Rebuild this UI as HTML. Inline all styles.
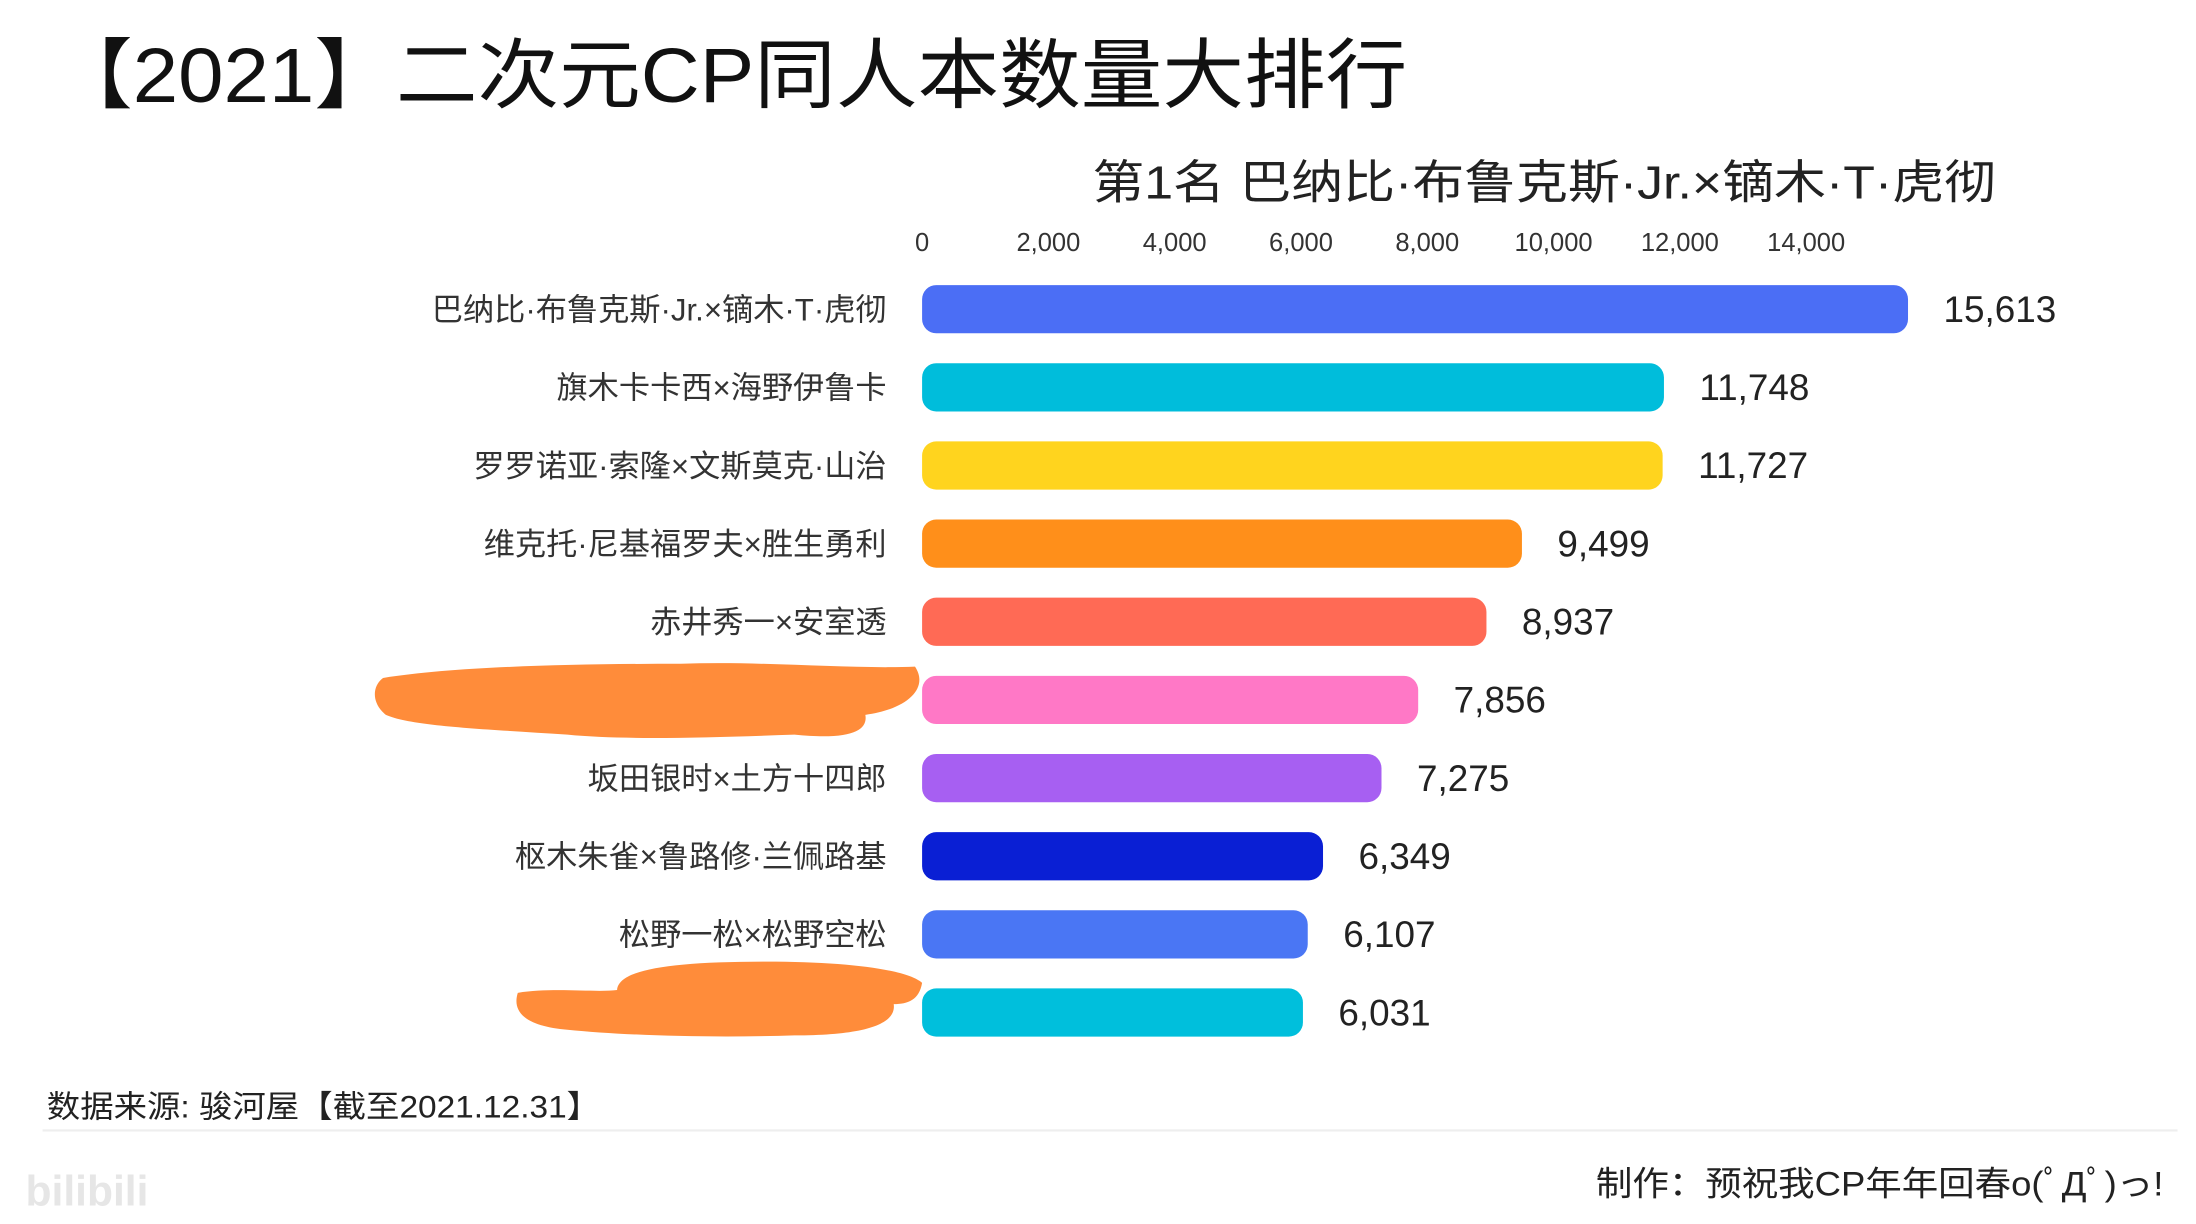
<!DOCTYPE html>
<html><head><meta charset="utf-8"><style>
html,body{margin:0;padding:0;background:#fff;}
svg{display:block;}
text{font-family:"Liberation Sans","Noto Sans CJK SC",sans-serif;}
</style></head><body>
<svg id="chart" width="2196" height="1224" viewBox="0 0 1548 863" preserveAspectRatio="none" xmlns="http://www.w3.org/2000/svg">
<rect width="1548" height="863" fill="#fff"/>
<text x="36" y="72" font-size="54" fill="#111" textLength="956" lengthAdjust="spacingAndGlyphs">【2021】二次元CP同人本数量大排行</text>
<text x="770" y="140" font-size="33" fill="#222" textLength="637" lengthAdjust="spacingAndGlyphs">第1名 巴纳比·布鲁克斯·Jr.×镝木·T·虎彻</text>
<g id="ticks"></g>
<g id="bars"></g>
<path d="M270,478 C320,470 400,468 480,468 C540,466 600,472 645,470 C655,485 640,500 610,504 C612,515 600,522 560,518 C500,520 440,522 400,518 C340,514 290,512 272,504 C262,496 262,484 270,478 Z" fill="#ff8c3a"/>
<path d="M365,700 C390,696 420,700 435,698 C436,684 470,678 540,678 C600,678 640,684 650,693 C648,705 640,708 630,708 C632,722 610,730 560,730 C500,732 440,730 400,726 C375,724 360,716 365,700 Z" fill="#ff8c3a"/>
<text x="33" y="788" font-size="22" fill="#222" textLength="390" lengthAdjust="spacingAndGlyphs">数据来源: 骏河屋【截至2021.12.31】</text>
<line x1="30" y1="797" x2="1535" y2="797" stroke="#eee" stroke-width="1.5"/>
<text x="1525" y="843" font-size="24" fill="#222" text-anchor="end" textLength="400" lengthAdjust="spacingAndGlyphs">制作：预祝我CP年年回春o(ﾟДﾟ)っ!</text>
<text x="18" y="850" font-size="30" fill="#e6e6e6" font-weight="bold">bilibili</text>
</svg>
<script>
const categories=["巴纳比·布鲁克斯·Jr.×镝木·T·虎彻","旗木卡卡西×海野伊鲁卡","罗罗诺亚·索隆×文斯莫克·山治","维克托·尼基福罗夫×胜生勇利","赤井秀一×安室透","","坂田银时×土方十四郎","枢木朱雀×鲁路修·兰佩路基","松野一松×松野空松",""];
const values=[15613,11748,11727,9499,8937,7856,7275,6349,6107,6031];
const colors=["#4b6ef5","#00bddb","#ffd41e","#ff8f1a","#ff6a55","#ff78c6","#a75ff2","#0a1fd4","#4a76f4","#00bfdc"];
const tickValues=[0,2000,4000,6000,8000,10000,12000,14000];
const tickLabels=["0","2,000","4,000","6,000","8,000","10,000","12,000","14,000"];
const NS="http://www.w3.org/2000/svg";
const x0=650, pxPerUnit=695/15613;
function xScale(v){return x0+v*pxPerUnit;}
function yScale(i){return 218+i*55.1;}
const tg=document.getElementById('ticks');
tickValues.forEach((v,i)=>{
  const t=document.createElementNS(NS,'text');
  
  
  t.setAttribute('x',xScale(v));t.setAttribute('y',177);
  t.setAttribute('font-size','18');t.setAttribute('fill','#333');
  t.setAttribute('text-anchor','middle');
  t.textContent=tickLabels[i];tg.appendChild(t);
});
const bg=document.getElementById('bars');
values.forEach((v,i)=>{
  const y=yScale(i);
  const r=document.createElementNS(NS,'rect');
  
  
  r.setAttribute('x',x0);r.setAttribute('y',y-17);
  r.setAttribute('width',xScale(v)-x0);r.setAttribute('height',34);
  r.setAttribute('rx',10);r.setAttribute('fill',colors[i]);
  bg.appendChild(r);
  const vt=document.createElementNS(NS,'text');
  
  
  vt.setAttribute('x',xScale(v)+25);vt.setAttribute('y',y+9);
  vt.setAttribute('font-size','26');vt.setAttribute('fill','#222');
  vt.textContent=v.toLocaleString('en-US');bg.appendChild(vt);
  const lt=document.createElementNS(NS,'text');
  
  
  lt.setAttribute('x',625);lt.setAttribute('y',y+8);
  lt.setAttribute('font-size','22');lt.setAttribute('fill','#333');
  lt.setAttribute('text-anchor','end');
  lt.textContent=categories[i];bg.appendChild(lt);
});
</script>
</body></html>
